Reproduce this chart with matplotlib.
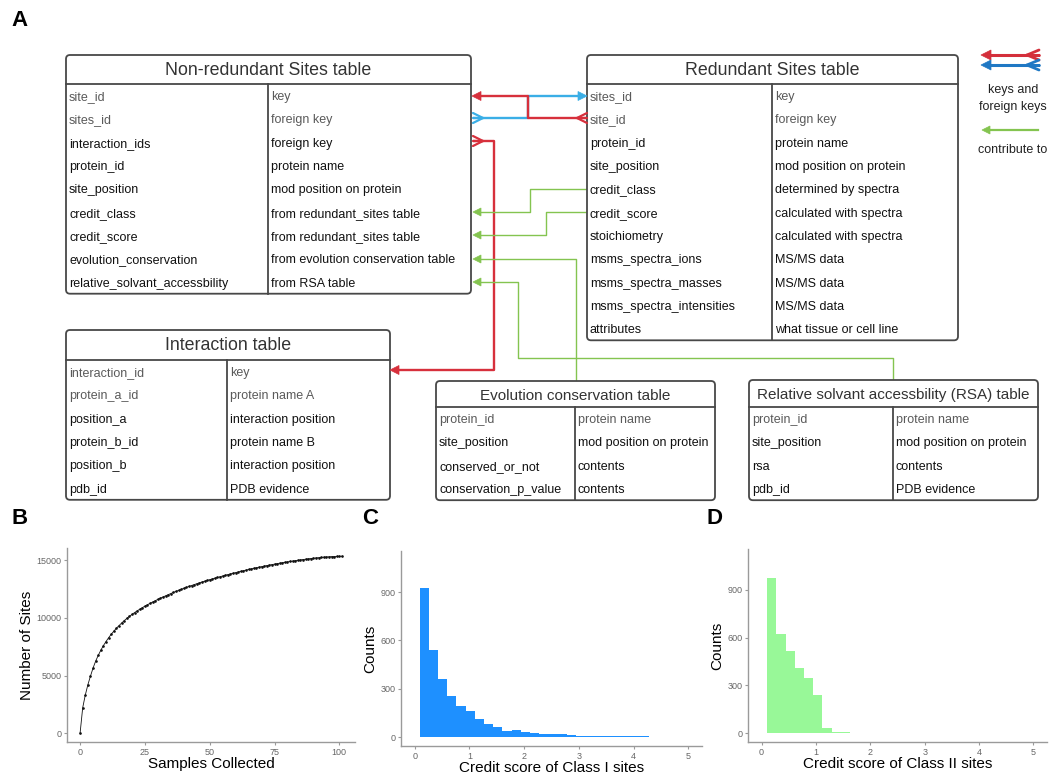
import matplotlib
matplotlib.use('Agg')
import matplotlib.pyplot as plt
from matplotlib.patches import FancyBboxPatch, Polygon

plt.rcParams['font.family'] = ['Liberation Sans', 'DejaVu Sans']

# ---------------- schema tables ----------------
nr_title = 'Non-redundant Sites table'
nr_fields = ['site_id', 'sites_id', 'interaction_ids', 'protein_id', 'site_position',
             'credit_class', 'credit_score', 'evolution_conservation',
             'relative_solvant_accessbility']
nr_notes = ['key', 'foreign key', 'foreign key', 'protein name', 'mod position on protein',
            'from redundant_sites table', 'from redundant_sites table',
            'from evolution conservation table', 'from RSA table']

rd_title = 'Redundant Sites table'
rd_fields = ['sites_id', 'site_id', 'protein_id', 'site_position', 'credit_class',
             'credit_score', 'stoichiometry', 'msms_spectra_ions', 'msms_spectra_masses',
             'msms_spectra_intensities', 'attributes']
rd_notes = ['key', 'foreign key', 'protein name', 'mod position on protein',
            'determined by spectra', 'calculated with spectra', 'calculated with spectra',
            'MS/MS data', 'MS/MS data', 'MS/MS data', 'what tissue or cell line']

it_title = 'Interaction table'
it_fields = ['interaction_id', 'protein_a_id', 'position_a', 'protein_b_id', 'position_b', 'pdb_id']
it_notes = ['key', 'protein name A', 'interaction position', 'protein name B',
            'interaction position', 'PDB evidence']

ev_title = 'Evolution conservation table'
ev_fields = ['protein_id', 'site_position', 'conserved_or_not', 'conservation_p_value']
ev_notes = ['protein name', 'mod position on protein', 'contents', 'contents']

rsa_title = 'Relative solvant accessbility (RSA) table'
rsa_fields = ['protein_id', 'site_position', 'rsa', 'pdb_id']
rsa_notes = ['protein name', 'mod position on protein', 'contents', 'PDB evidence']

# ---------------- panel B: accumulation curve ----------------
samples = list(range(0, 102))
n_sites = [0, 2200, 3300, 4200, 4950, 5650, 6250, 6750, 7200, 7600,
           7950, 8280, 8580, 8850, 9100, 9330, 9550, 9760, 9950, 10130,
           10300, 10460, 10610, 10750, 10890, 11020, 11145, 11265, 11380, 11495,
           11605, 11712, 11816, 11918, 12017, 12114, 12209, 12301, 12391, 12479,
           12565, 12649, 12731, 12811, 12889, 12965, 13039, 13111, 13181, 13249,
           13315, 13381, 13446, 13510, 13573, 13635, 13696, 13756, 13815, 13873,
           13930, 13986, 14041, 14095, 14148, 14200, 14251, 14301, 14350, 14398,
           14445, 14491, 14536, 14580, 14623, 14665, 14706, 14746, 14785, 14823,
           14860, 14896, 14931, 14965, 14998, 15030, 15061, 15091, 15120, 15148,
           15175, 15200, 15224, 15246, 15266, 15284, 15300, 15314, 15326, 15336,
           15344, 15350]

# ---------------- panels C/D: credit score histograms ----------------
c1_start, c1_width = 0.09, 0.168
class1_counts = [923, 543, 358, 254, 191, 160, 112, 83, 60, 40,
                 46, 29, 25, 19, 17, 19, 12, 10, 8, 8,
                 6, 6, 5, 4, 4, 3, 1, 0, 2]
c2_start, c2_width = 0.10, 0.17
class2_counts = [971, 619, 515, 406, 346, 240, 35, 10, 8, 4,
                 2, 2, 1, 0, 1, 0, 0, 0, 1, 0,
                 1, 0, 0, 0, 0, 0, 0, 0, 0]

W, H = 1054, 774
fig = plt.figure(figsize=(W / 100, H / 100), dpi=100)
ax = fig.add_axes([0, 0, 1, 1])
ax.set_xlim(0, W)
ax.set_ylim(H, 0)
ax.axis('off')

EDGE = '#484848'
ROW_H = 23.3


def draw_table(x0, x1, top, title_bot, split, title, fields, notes, n_gray, tsize):
    bottom = title_bot + ROW_H * len(fields)
    box = FancyBboxPatch((x0, top), x1 - x0, bottom - top,
                         boxstyle='round,pad=0,rounding_size=4',
                         fc='white', ec=EDGE, lw=1.3, zorder=2)
    ax.add_patch(box)
    ax.plot([x0, x1], [title_bot, title_bot], color=EDGE, lw=1.3, zorder=3)
    ax.plot([split, split], [title_bot, bottom], color=EDGE, lw=1.3, zorder=3)
    ax.text((x0 + x1) / 2, (top + title_bot) / 2 + 5.5, title, ha='center', va='baseline',
            fontsize=tsize, color='#333333', zorder=4)
    for i, (f, n) in enumerate(zip(fields, notes)):
        y = title_bot + ROW_H * (i + 0.5) + 4.5
        col = '#5a5a5a' if i < n_gray else '#111111'
        ax.text(x0 + 3, y, f, ha='left', va='baseline', fontsize=9, color=col, zorder=4)
        ax.text(split + 3, y, n, ha='left', va='baseline', fontsize=9, color=col, zorder=4)


draw_table(66, 471, 55, 84, 268, nr_title, nr_fields, nr_notes, 2, 12.8)
draw_table(587, 958, 55, 84, 772, rd_title, rd_fields, rd_notes, 2, 12.8)
draw_table(66, 390, 330, 360, 227, it_title, it_fields, it_notes, 2, 12.8)
draw_table(436, 715, 381, 407, 575, ev_title, ev_fields, ev_notes, 1, 11)
draw_table(749, 1038, 380, 407, 893, rsa_title, rsa_fields, rsa_notes, 1, 11)

RED = '#d7303c'
BLUE = '#3aaee6'
GREEN = '#84c450'


def head(x, y, d, color, size=9, half=4.5):
    # filled arrow head with its tip at (x, y); d=-1 points left, d=+1 right
    ax.add_patch(Polygon([(x, y), (x - d * size, y - half), (x - d * size, y + half)],
                         closed=True, fc=color, ec=color, lw=0.5, zorder=5))


def crow(x, y, d, color, length=10, spread=5, lw=1.6):
    # crow's foot that opens onto the edge at x
    for dy in (-spread, 0, spread):
        ax.plot([x - d * length, x], [y, y + dy], color=color, lw=lw,
                solid_capstyle='round', zorder=5)


def path(pts, color, lw):
    xs, ys = zip(*pts)
    ax.plot(xs, ys, color=color, lw=lw, solid_joinstyle='round',
            solid_capstyle='butt', zorder=1)


# keys between the two site tables
path([(473, 118), (528, 118), (528, 96), (580, 96)], BLUE, 1.7)
head(587, 96, 1, BLUE)
crow(473, 118, -1, BLUE)
path([(587, 118), (528, 118), (528, 96), (480, 96)], RED, 1.7)
head(472, 96, -1, RED)
crow(587, 118, 1, RED)

# interaction ids -> interaction table
path([(473, 141), (494, 141), (494, 370), (398, 370)], RED, 1.7)
head(390, 370, -1, RED)
crow(473, 141, -1, RED)

# contributing columns
path([(587, 189), (530, 189), (530, 212), (480, 212)], GREEN, 1.0)
head(473, 212, -1, GREEN, size=8, half=4)
path([(587, 212), (546, 212), (546, 235), (480, 235)], GREEN, 1.0)
head(473, 235, -1, GREEN, size=8, half=4)
path([(576, 381), (576, 259), (480, 259)], GREEN, 1.0)
head(473, 259, -1, GREEN, size=8, half=4)
path([(893, 380), (893, 358), (518, 358), (518, 282), (480, 282)], GREEN, 1.0)
head(473, 282, -1, GREEN, size=8, half=4)

# key
ax.plot([988, 1038], [55, 55], color='#d42f3b', lw=2.2, zorder=5)
head(981, 55, -1, '#d42f3b', size=10, half=5)
crow(1039, 55, 1, '#d42f3b', length=12, spread=5, lw=2)
ax.plot([988, 1038], [65, 65], color='#1f78c4', lw=2.2, zorder=5)
head(981, 65, -1, '#1f78c4', size=10, half=5)
crow(1039, 65, 1, '#1f78c4', length=12, spread=5, lw=2)
ax.text(1013, 90, 'keys and', ha='center', va='center', fontsize=9, color='#222222')
ax.text(1013, 107, 'foreign keys', ha='center', va='center', fontsize=9, color='#222222')
ax.plot([988, 1038], [130, 130], color=GREEN, lw=1.6, zorder=5)
head(982, 130, -1, GREEN, size=8, half=4)
ax.text(1013, 150, 'contribute to', ha='center', va='center', fontsize=9, color='#222222')

# panel letters
for lab, (lx, ly) in {'A': (20, 21), 'B': (20, 518), 'C': (370, 518), 'D': (715, 518)}.items():
    ax.text(lx, ly, lab, ha='center', va='center', fontsize=16, fontweight='bold')


def panel(x0, x1, top, bot):
    a = fig.add_axes([x0 / W, 1 - bot / H, (x1 - x0) / W, (bot - top) / H])
    for s in ('top', 'right'):
        a.spines[s].set_visible(False)
    for s in ('left', 'bottom'):
        a.spines[s].set_color('#9a9a9a')
        a.spines[s].set_linewidth(1.0)
    a.tick_params(colors='#9a9a9a', labelcolor='#666666', labelsize=6.5, length=2.5, width=0.8, pad=1.5)
    return a


# B
axb = panel(67, 355, 548, 742)
axb.plot(samples, n_sites, color='#111111', lw=0.6, marker='o', ms=0.9, mec='#111111', mfc='#111111')
axb.set_xlim(-5.05, 106.05)
axb.set_ylim(-765, 16065)
axb.set_xticks([0, 25, 50, 75, 100])
axb.set_yticks([0, 5000, 10000, 15000])
axb.set_xlabel('Samples Collected', fontsize=11, labelpad=0)
axb.set_ylabel('Number of Sites', fontsize=11, labelpad=2)


def hist(a, start, width, counts, color, xlabel):
    lefts = [start + i * width for i in range(len(counts))]
    a.bar(lefts, counts, width=width, align='edge', color=color, lw=0)
    a.set_xlim(-0.25, 5.25)
    a.set_ylim(-55, 1155)
    a.set_xticks([0, 1, 2, 3, 4, 5])
    a.set_yticks([0, 300, 600, 900])
    a.set_xlabel(xlabel, fontsize=11, labelpad=0)
    a.set_ylabel('Counts', fontsize=11, labelpad=2)


axc = panel(401, 702, 551, 746)
hist(axc, c1_start, c1_width, class1_counts, '#1e90ff', 'Credit score of Class I sites')
axd = panel(748, 1047, 549, 742)
hist(axd, c2_start, c2_width, class2_counts, '#98f898', 'Credit score of Class II sites')

fig.savefig('out.png', dpi=100)
